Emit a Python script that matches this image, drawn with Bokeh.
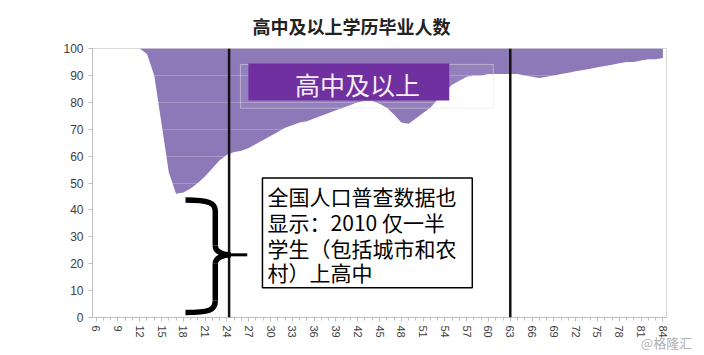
from bokeh.plotting import figure
from bokeh.models import Range1d, FixedTicker, Span, BoxAnnotation, Label
from bokeh.embed import file_html
from bokeh.resources import INLINE

# ---- data ----
ages = list(range(6, 85))
share_hs = [100, 100, 100, 100, 100, 100, 100, 98, 90, 72, 54, 46, 46.5, 48, 50, 52.5,
            55.5, 58.5, 60.5, 61.5, 62, 63, 64.5, 66, 67.5, 69, 70.5, 71.5, 72.5, 73,
            74, 75, 76, 77, 78, 79, 80, 80.5, 80.5, 79.5, 78, 75.5, 72.5, 72, 74, 76,
            78, 81, 84, 86.5, 88, 89.5, 90, 90, 90.5, 90.5, 90.5, 90.5, 90.5, 90, 89.5,
            89, 89.5, 90, 90.5, 91, 91.5, 92, 92.5, 93, 93.5, 94, 94.5, 95, 95, 95.5,
            96, 96, 96.5]
y_ticks = list(range(0, 101, 10))
x_major = list(range(6, 85, 3))
x_minor = list(range(6, 85))
marker_ages = [24.3, 63]

title_text = "高中及以上学历毕业人数"
legend_text = "高中及以上"
note_lines = ["全国人口普查数据也", "显示：2010 仅一半", "学生（包括城市和农", "村）上高中"]
watermark = "@格隆汇"

CJK = "Noto Sans CJK SC"

p = figure(width=700, height=355, output_backend="svg", toolbar_location=None,
           x_range=Range1d(5.5, 84.5), y_range=Range1d(0, 100),
           min_border_left=92, min_border_right=34, min_border_top=47,
           min_border_bottom=38)
p.background_fill_color = "white"
p.border_fill_color = "white"
p.outline_line_color = "#d9d9d9"

p.title.text = title_text
p.title.align = "left"
p.title.offset = 160
p.title.text_font = CJK
p.title.text_font_size = "18px"
p.title.text_font_style = "bold"
p.title.text_color = "#222222"
p.title.standoff = 20

p.varea(x=ages, y1=share_hs, y2=100, fill_color="#8D79B8", fill_alpha=1.0)

# grid
p.xgrid.visible = False
p.ygrid.ticker = FixedTicker(ticks=y_ticks)
p.ygrid.grid_line_color = "white"
p.ygrid.grid_line_alpha = 0.22
p.ygrid.level = "guide"

# axes
p.yaxis.ticker = FixedTicker(ticks=y_ticks)
p.xaxis.ticker = FixedTicker(ticks=x_major, minor_ticks=x_minor)
for ax in (p.xaxis[0], p.yaxis[0]):
    ax.axis_line_color = "#bfbfbf"
    ax.major_tick_line_color = "#bfbfbf"
    ax.minor_tick_line_color = "#bfbfbf"
    ax.major_tick_out = 4
    ax.major_tick_in = 0
    ax.minor_tick_out = 3
    ax.minor_tick_in = 0
    ax.major_label_text_color = "#404040"
    ax.major_label_text_font = "Liberation Sans"
p.yaxis.minor_tick_line_color = None
p.yaxis.major_label_text_font_size = "12px"
p.yaxis.major_label_standoff = 5
p.xaxis.major_label_text_font_size = "11px"
p.xaxis.major_label_orientation = "vertical"
p.xaxis.major_label_standoff = 4

# watermark as x-axis label, aligned to the right end
xa = p.xaxis[0]
xa.axis_label = watermark
xa.axis_label_align = "end"
xa.axis_label_standoff = -8
xa.axis_label_text_font = CJK
xa.axis_label_text_font_size = "13px"
xa.axis_label_text_font_style = "normal"
xa.axis_label_text_color = "#b0b0b0"

# legend-like label
p.add_layout(BoxAnnotation(left=25.86, right=60.66, top=94.07, bottom=77.8,
                           fill_color="white", fill_alpha=0.06,
                           line_color="#e4e4e4", line_alpha=0.5, line_width=1))
p.add_layout(BoxAnnotation(left=26.96, right=54.6, top=94.4, bottom=80.7,
                           fill_color="#7030A0", fill_alpha=1.0, line_color=None))
p.add_layout(Label(x=41.96, y=86.9, text=legend_text, text_align="center",
                   text_baseline="middle", text_font=CJK, text_font_size="25px",
                   text_color="#f6eef8"))

# vertical marker lines
for a in marker_ages:
    p.add_layout(Span(location=a, dimension="height", line_color="#111111",
                      line_width=2.5))

# note box
p.add_layout(BoxAnnotation(left=28.89, right=57.77, top=51.85, bottom=11.1,
                           fill_color="white", fill_alpha=1.0,
                           line_color="black", line_alpha=1.0, line_width=1.5))
note_y = [45.2, 35.6, 25.9, 16.8]
for txt, yy in zip(note_lines, note_y):
    p.add_layout(Label(x=29.6, y=yy, text=txt, text_align="left",
                       text_baseline="middle", text_font=CJK,
                       text_font_size="21px", text_color="black"))

# curly brace
b_left, b_mid, b_tip, b_tip_end = 18.3, 22.4, 24.5, 26.8
b_top, b_center, b_bottom = 43.7, 23.3, 1.85
b_hook = 4.1
p.bezier(x0=[b_left, b_mid, b_tip, b_mid], y0=[b_top, b_center + 3.4, b_center, b_bottom + 4.4],
         x1=[b_mid, b_tip, b_mid, b_left], y1=[b_top - b_hook, b_center, b_center - 3.3, b_bottom],
         cx0=[b_mid - 0.9, b_mid, b_tip - 1.0, b_mid], cy0=[b_top, b_center + 1.0, b_center, b_bottom + 0.8],
         cx1=[b_mid, b_tip - 1.0, b_mid, b_mid - 0.9], cy1=[b_top - 1.2, b_center, b_center - 1.0, b_bottom],
         line_color="black", line_width=5.5, level="overlay")
p.segment(x0=[b_mid, b_mid], y0=[b_top - b_hook, b_center - 3.3],
          x1=[b_mid, b_mid], y1=[b_center + 3.4, b_bottom + 4.4],
          line_color="black", line_width=5.5, level="overlay")
p.segment(x0=[b_tip - 0.3], y0=[b_center], x1=[b_tip_end], y1=[b_center],
          line_color="black", line_width=3, level="overlay")

open("out.html", "w").write(file_html(p, INLINE))
